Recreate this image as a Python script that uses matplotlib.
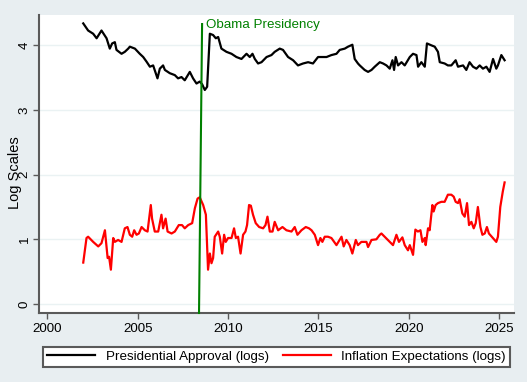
import matplotlib
matplotlib.use("Agg")
import matplotlib.pyplot as plt

# ---- data ----
approval_years = [
    2001.98, 2002.25, 2002.53, 2002.72, 2002.99, 2003.27, 2003.45, 2003.58, 2003.73, 2003.82,
    2004.10, 2004.28, 2004.47, 2004.56, 2004.84, 2005.11, 2005.30, 2005.48, 2005.67, 2005.85,
    2006.09, 2006.22, 2006.40, 2006.50, 2006.77, 2007.05, 2007.23, 2007.42, 2007.60, 2007.88,
    2008.06, 2008.25, 2008.43, 2008.56, 2008.71, 2008.84, 2008.99, 2009.17, 2009.32, 2009.45,
    2009.63, 2009.91, 2010.19, 2010.46, 2010.74, 2011.02, 2011.20, 2011.35, 2011.48, 2011.66,
    2011.85, 2012.13, 2012.40, 2012.58, 2012.86, 2013.04, 2013.32, 2013.60, 2013.87, 2014.15,
    2014.43, 2014.70, 2014.98, 2015.17, 2015.45, 2015.72, 2016.00, 2016.18, 2016.46, 2016.64,
    2016.88, 2017.01, 2017.19, 2017.29, 2017.56, 2017.75, 2017.94, 2018.12, 2018.40, 2018.58,
    2018.77, 2018.95, 2019.10, 2019.19, 2019.28, 2019.41, 2019.60, 2019.78, 2020.06, 2020.24,
    2020.43, 2020.52, 2020.70, 2020.89, 2021.01, 2021.26, 2021.44, 2021.62, 2021.72, 2021.99,
    2022.17, 2022.36, 2022.60, 2022.73, 2023.01, 2023.19, 2023.37, 2023.56, 2023.75, 2023.93,
    2024.11, 2024.30, 2024.48, 2024.67, 2024.85, 2024.94, 2025.13, 2025.31,
]
approval_logs = [
    4.34, 4.23, 4.18, 4.11, 4.23, 4.11, 3.95, 4.03, 4.05, 3.93,
    3.87, 3.90, 3.95, 3.98, 3.95, 3.87, 3.82, 3.75, 3.67, 3.69,
    3.49, 3.64, 3.69, 3.62, 3.57, 3.54, 3.49, 3.51, 3.46, 3.59,
    3.49, 3.41, 3.44, 3.40, 3.31, 3.36, 4.18, 4.16, 4.11, 4.13,
    3.95, 3.90, 3.87, 3.82, 3.79, 3.87, 3.82, 3.87, 3.79, 3.72,
    3.74, 3.82, 3.85, 3.90, 3.95, 3.93, 3.82, 3.77, 3.69, 3.72,
    3.74, 3.72, 3.82, 3.82, 3.82, 3.85, 3.87, 3.93, 3.95, 3.98,
    4.01, 3.79, 3.72, 3.69, 3.62, 3.59, 3.62, 3.67, 3.74, 3.72,
    3.69, 3.64, 3.77, 3.62, 3.82, 3.69, 3.74, 3.69, 3.82, 3.87,
    3.85, 3.67, 3.74, 3.67, 4.03, 4.00, 3.98, 3.90, 3.74, 3.72,
    3.69, 3.69, 3.77, 3.67, 3.69, 3.62, 3.74, 3.67, 3.64, 3.69,
    3.64, 3.67, 3.59, 3.79, 3.64, 3.69, 3.85, 3.77,
]

inflation_years = [
    2001.98, 2002.16, 2002.25, 2002.53, 2002.81, 2002.99, 2003.18, 2003.33, 2003.41, 2003.51,
    2003.64, 2003.73, 2003.91, 2004.10, 2004.28, 2004.43, 2004.56, 2004.69, 2004.80, 2004.93,
    2005.06, 2005.21, 2005.39, 2005.54, 2005.72, 2005.79, 2005.94, 2006.13, 2006.31, 2006.40,
    2006.54, 2006.65, 2006.87, 2007.05, 2007.27, 2007.45, 2007.60, 2007.79, 2008.01, 2008.16,
    2008.31, 2008.43, 2008.62, 2008.77, 2008.89, 2008.99, 2009.08, 2009.17, 2009.26, 2009.45,
    2009.54, 2009.67, 2009.78, 2009.87, 2010.00, 2010.19, 2010.33, 2010.43, 2010.55, 2010.69,
    2010.83, 2010.96, 2011.05, 2011.16, 2011.26, 2011.38, 2011.53, 2011.72, 2011.94, 2012.07,
    2012.18, 2012.31, 2012.46, 2012.58, 2012.77, 2013.01, 2013.23, 2013.51, 2013.69, 2013.84,
    2014.06, 2014.30, 2014.48, 2014.62, 2014.80, 2014.98, 2015.11, 2015.22, 2015.35, 2015.53,
    2015.72, 2016.00, 2016.28, 2016.40, 2016.55, 2016.73, 2016.88, 2017.07, 2017.19, 2017.38,
    2017.66, 2017.75, 2017.94, 2018.21, 2018.40, 2018.49, 2018.67, 2018.85, 2019.13, 2019.32,
    2019.46, 2019.65, 2019.78, 2019.96, 2020.06, 2020.24, 2020.37, 2020.51, 2020.65, 2020.76,
    2020.89, 2020.94, 2021.07, 2021.16, 2021.31, 2021.38, 2021.49, 2021.62, 2021.81, 2021.99,
    2022.17, 2022.36, 2022.49, 2022.60, 2022.73, 2022.82, 2022.97, 2023.10, 2023.23, 2023.34,
    2023.47, 2023.60, 2023.71, 2023.83, 2023.97, 2024.08, 2024.21, 2024.33, 2024.44, 2024.63,
    2024.85, 2024.94, 2025.07, 2025.21, 2025.31,
]
inflation_logs = [
    0.64, 1.02, 1.04, 0.96, 0.89, 0.94, 1.14, 0.71, 0.73, 0.53,
    1.02, 0.96, 0.99, 0.96, 1.17, 1.19, 1.07, 1.04, 1.14, 1.07,
    1.09, 1.19, 1.14, 1.12, 1.53, 1.32, 1.12, 1.12, 1.38, 1.17,
    1.32, 1.12, 1.09, 1.12, 1.22, 1.22, 1.17, 1.22, 1.25, 1.48,
    1.63, 1.65, 1.53, 1.38, 0.53, 0.78, 0.63, 0.71, 1.04, 1.12,
    1.04, 0.78, 1.07, 0.96, 1.02, 1.02, 1.17, 1.02, 1.04, 0.78,
    1.07, 1.12, 1.22, 1.53, 1.52, 1.38, 1.25, 1.19, 1.17, 1.22,
    1.35, 1.12, 1.12, 1.27, 1.14, 1.19, 1.14, 1.12, 1.19, 1.07,
    1.14, 1.19, 1.17, 1.14, 1.07, 0.91, 1.02, 0.96, 1.04, 1.04,
    1.02, 0.91, 1.04, 0.89, 0.99, 0.91, 0.78, 0.99, 0.91, 0.96,
    0.96, 0.88, 0.99, 1.00, 1.07, 1.09, 1.04, 0.99, 0.91, 1.07,
    0.96, 1.03, 0.91, 0.83, 0.91, 0.76, 1.15, 1.12, 1.14, 0.96,
    1.02, 0.91, 1.17, 1.14, 1.53, 1.43, 1.53, 1.56, 1.58, 1.58,
    1.69, 1.69, 1.66, 1.58, 1.56, 1.62, 1.40, 1.35, 1.56, 1.22,
    1.27, 1.17, 1.25, 1.50, 1.19, 1.07, 1.09, 1.19, 1.09, 1.03,
    0.96, 1.04, 1.50, 1.74, 1.88,
]

obama_line_x = [2008.39, 2008.56]
obama_line_y = [-0.14, 4.33]
obama_label = "Obama Presidency"

x_ticks = [2000, 2005, 2010, 2015, 2020, 2025]
y_ticks = [0, 1, 2, 3, 4]
approval_label = "Presidential Approval (logs)"
inflation_label = "Inflation Expectations (logs)"
y_title = "Log Scales"

# ---- drawing ----
plt.rcParams['font.family'] = ['Liberation Sans', 'DejaVu Sans']
bg = "#E8EEF1"
spine_c = "#5a5a5a"
fs = 9.6

fig = plt.figure(figsize=(5.27, 3.82), dpi=100, facecolor=bg)
ax = fig.add_axes([39 / 527, 1 - 313 / 382, (514 - 39) / 527, (313 - 15) / 382])
ax.set_facecolor("white")

ax.set_xlim(1999.53, 2025.83)
ax.set_ylim(-0.14, 4.47)

for y in y_ticks:
    ax.axhline(y, color="#EAF2F3", lw=1.0, zorder=0)

l1, = ax.plot(approval_years, approval_logs, color="black", lw=1.6, label=approval_label, zorder=3)
l2, = ax.plot(inflation_years, inflation_logs, color="red", lw=1.6, label=inflation_label, zorder=3)
ax.plot(obama_line_x, obama_line_y, color="green", lw=1.5, zorder=4, clip_on=False)
ax.text(2008.77, 4.27, obama_label, color="green", fontsize=fs, va="baseline", ha="left")

for s in ["top", "right"]:
    ax.spines[s].set_visible(False)
for s in ["left", "bottom"]:
    ax.spines[s].set_color(spine_c)
    ax.spines[s].set_linewidth(1.5)

ax.set_xticks(x_ticks)
ax.set_yticks(y_ticks)
ax.tick_params(axis="both", colors=spine_c, labelcolor="black", labelsize=fs, length=4, width=1)
ax.tick_params(axis="y", pad=2)
for lab in ax.get_yticklabels():
    lab.set_rotation(90)
    lab.set_va("center")
ax.set_ylabel(y_title, fontsize=10.5)
ax.yaxis.set_label_coords(-0.036, 0.47)

leg = fig.legend(handles=[l1, l2], labels=[approval_label, inflation_label], ncol=2,
                 loc="lower left", bbox_to_anchor=(43 / 527, 15 / 382, (510 - 43) / 527, 25 / 382),
                 mode="expand", fancybox=False, framealpha=1, facecolor="white",
                 edgecolor=spine_c, fontsize=fs, handlelength=3.6, handletextpad=0.8,
                 borderaxespad=0, borderpad=0.3)
leg.get_frame().set_linewidth(1.5)

fig.savefig("out.png", dpi=100, facecolor=bg)
